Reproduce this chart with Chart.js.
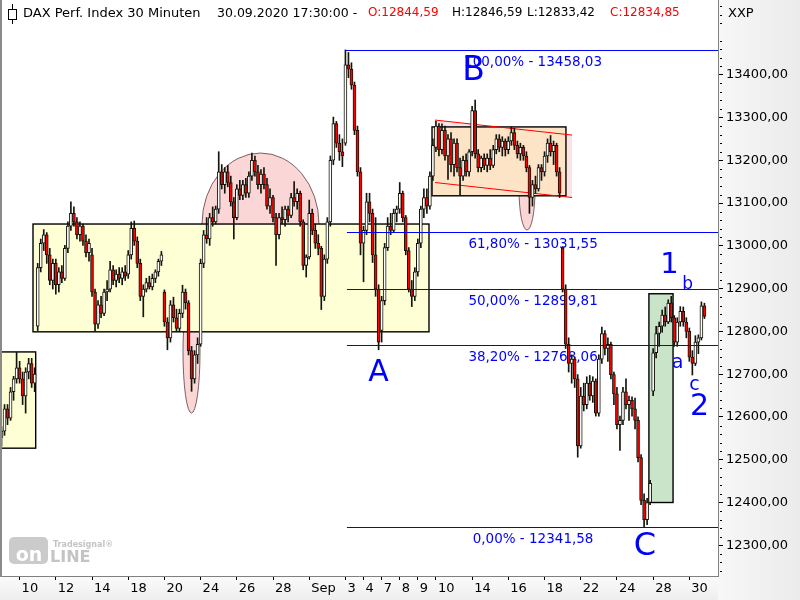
<!DOCTYPE html>
<html>
<head>
<meta charset="utf-8">
<title>DAX Perf. Index 30 Minuten</title>
<script src="https://cdn.jsdelivr.net/npm/chart.js@4.4.1/dist/chart.umd.min.js"></script>
<style>
  html, body { margin:0; padding:0; background:#fff; }
  #wrap { position:relative; width:800px; height:600px; overflow:hidden; }
  #chart { position:absolute; left:0; top:0; }
  .hd { position:absolute; top:4px; font-family:"DejaVu Sans", sans-serif; font-size:12px; line-height:17px; white-space:pre; color:#000; }
  .red { color:#ff0000; }
</style>
</head>
<body>
<div id="wrap">
  <canvas id="chart" width="800" height="600"></canvas>
  <div class="hd" style="left:23px;font-size:13px">DAX Perf. Index 30 Minuten</div>
  <div class="hd" style="left:217px;font-size:12.5px">30.09.2020 17:30:00 -</div>
  <div class="hd red" style="left:368px">O:12844,59</div>
  <div class="hd" style="left:452px">H:12846,59</div>
  <div class="hd" style="left:527px">L:12833,42</div>
  <div class="hd red" style="left:610px">C:12834,85</div>
  <div class="hd" style="left:728px;font-size:13px">XXP</div>
</div>
<script>
// ---------- data ----------
// trading days (Aug 7 .. Sep 30, 2020); '' = day without a printed tick label
const dayLabels = ['', '10', '', '12', '', '14', '', '18', '', '20', '', '24', '', '26', '', '28', '', 'Sep', '', '3', '4', '7', '8', '9', '10', '', '14', '', '16', '', '18', '', '22', '', '24', '', '28', '', '30'];
const barsPerDay = 6;
const emptySlots = 4;

// [open, high, low, close], one line per trading day
const ohlc = [
  [12552,12577,12532,12567],[12567,12629,12557,12619],[12619,12629,12582,12597],[12597,12669,12592,12659],[12659,12695,12639,12689],[12689,12751,12679,12715],
  [12715,12730,12679,12689],[12689,12705,12629,12649],[12649,12715,12609,12705],[12705,12737,12689,12725],[12725,12737,12669,12679],[12679,12715,12659,12700],
  [12812,12959,12802,12949],[12949,13016,12939,13006],[13006,13038,12989,13026],[13026,13031,12959,12979],[12979,12994,12909,12919],[12919,12969,12899,12959],
  [12959,12969,12887,12909],[12909,12949,12892,12939],[12939,12954,12914,12924],[12924,13001,12919,12994],[12994,13056,12984,13046],[13046,13103,13036,13076],
  [13076,13091,13046,13056],[13056,13066,13016,13026],[13026,13056,13011,13046],[13046,13051,13001,13011],[13011,13026,12974,12984],[12984,13016,12964,13006],
  [12979,12994,12882,12892],[12892,12899,12800,12817],[12817,12872,12807,12862],[12862,12882,12832,12842],[12842,12899,12837,12892],[12892,12919,12872,12899],
  [12899,12964,12892,12944],[12944,12954,12909,12919],[12919,12944,12904,12934],[12934,12949,12914,12924],[12924,12949,12909,12939],[12939,12954,12919,12929],
  [12934,12989,12924,12979],[12979,13056,12969,13041],[13041,13058,13001,13011],[13011,13021,12949,12959],[12959,12969,12872,12882],[12882,12909,12834,12899],
  [12899,12924,12892,12914],[12914,12929,12899,12904],[12904,12934,12897,12924],[12924,12944,12914,12939],[12939,12969,12929,12964],[12964,12987,12954,12979],
  [12892,12897,12812,12822],[12822,12832,12757,12785],[12785,12872,12775,12862],[12862,12880,12822,12832],[12832,12852,12800,12807],[12807,12852,12800,12842],
  [12842,12908,12832,12892],[12892,12899,12852,12867],[12867,12872,12745,12755],[12755,12765,12660,12689],[12689,12755,12679,12745],[12745,12785,12725,12770],
  [12770,12969,12765,12959],[12959,13036,12949,13026],[13026,13066,13006,13016],[13016,13076,13001,13066],[13066,13091,13046,13056],[13056,13093,13051,13086],
  [13086,13220,13076,13173],[13173,13190,13133,13143],[13143,13183,13123,13173],[13173,13188,13138,13148],[13148,13163,13093,13103],[13103,13113,13016,13066],
  [13066,13143,13061,13133],[13133,13153,13108,13118],[13118,13153,13108,13143],[13143,13158,13113,13123],[13123,13173,13113,13163],[13163,13217,13153,13200],
  [13200,13210,13163,13173],[13173,13188,13133,13143],[13143,13178,13123,13168],[13168,13183,13133,13143],[13143,13158,13086,13093],[13093,13133,13076,13113],
  [13113,13118,13056,13066],[13066,13076,12954,13026],[13026,13076,13016,13066],[13066,13091,13051,13061],[13061,13093,13046,13086],[13086,13093,13056,13071],
  [13071,13123,13066,13113],[13113,13150,13093,13103],[13103,13133,13086,13123],[13123,13128,13046,13056],[13056,13061,12944,12954],[12954,12979,12927,12974],
  [12974,13107,12969,13076],[13076,13086,13026,13036],[13036,13051,12994,13006],[13006,13026,12979,12994],[12994,12999,12851,12882],[12882,12979,12872,12969],
  [12969,13066,12959,13056],[13056,13210,13046,13200],[13200,13301,13190,13286],[13286,13291,13230,13240],[13240,13260,13200,13220],[13220,13250,13185,13210],
  [13240,13458,13235,13423],[13423,13452,13393,13413],[13413,13428,13366,13376],[13376,13383,13260,13270],[13270,13280,13163,13173],[13173,13183,12979,13006],
  [13006,13046,12916,13036],[13036,13123,13026,13103],[13103,13123,13056,13076],[13076,13086,12961,12979],[12979,13066,12882,12899],[12899,12909,12757,12775],
  [12802,12882,12775,12872],[12872,13006,12862,12996],[12996,13066,12989,13046],[13046,13076,13026,13036],[13036,13086,13031,13076],[13076,13093,13056,13086],
  [13086,13148,13076,13123],[13123,13128,13056,13066],[13066,13071,12979,12989],[12989,12996,12892,12899],[12899,12919,12858,12882],[12882,12949,12872,12939],
  [12939,13016,12929,13006],[13006,13093,12996,13086],[13086,13133,13066,13113],[13113,13133,13076,13093],[13093,13173,13086,13163],[13163,13250,13153,13235],
  [13230,13291,13220,13280],[13280,13286,13210,13225],[13225,13285,13215,13270],[13270,13280,13200,13210],[13210,13260,13155,13250],[13250,13265,13173,13190],
  [13190,13250,13163,13240],[13240,13250,13173,13183],[13183,13205,13119,13163],[13163,13210,13153,13200],[13200,13215,13163,13173],[13173,13225,13163,13220],
  [13220,13326,13210,13316],[13316,13341,13205,13215],[13215,13225,13173,13183],[13183,13210,13173,13205],[13205,13215,13178,13188],[13188,13215,13173,13205],
  [13205,13225,13178,13188],[13188,13235,13183,13225],[13225,13260,13215,13250],[13250,13260,13220,13230],[13230,13255,13210,13245],[13245,13250,13210,13225],
  [13225,13255,13215,13245],[13245,13278,13235,13265],[13265,13275,13225,13235],[13235,13245,13205,13215],[13215,13240,13200,13230],[13230,13235,13200,13210],
  [13210,13220,13173,13183],[13183,13188,13076,13113],[13113,13153,13093,13143],[13143,13163,13123,13133],[13133,13190,13128,13183],[13183,13190,13153,13173],
  [13173,13220,13163,13210],[13210,13250,13195,13240],[13240,13258,13210,13220],[13220,13245,13190,13235],[13235,13240,13163,13173],[13173,13183,13113,13123],
  [12995,12998,12892,12899],[12899,12909,12760,12770],[12770,12785,12705,12725],[12725,12745,12679,12735],[12735,12740,12669,12689],[12689,12699,12506,12532],
  [12532,12669,12527,12649],[12649,12679,12614,12629],[12629,12694,12619,12679],[12679,12697,12639,12649],[12649,12694,12634,12684],[12684,12689,12602,12609],
  [12609,12745,12602,12735],[12735,12810,12725,12795],[12795,12802,12745,12760],[12760,12785,12730,12770],[12770,12775,12689,12699],[12699,12705,12629,12654],
  [12654,12669,12572,12582],[12582,12602,12522,12592],[12592,12669,12582,12659],[12659,12689,12619,12629],[12629,12649,12592,12639],[12639,12647,12602,12619],
  [12619,12644,12572,12592],[12592,12600,12495,12505],[12505,12512,12395,12405],[12405,12420,12342,12360],[12360,12410,12348,12400],[12400,12452,12395,12445],
  [12660,12760,12650,12750],[12750,12812,12738,12795],[12795,12822,12765,12812],[12812,12850,12798,12838],[12838,12857,12812,12822],[12822,12874,12818,12866],
  [12866,12882,12822,12832],[12832,12837,12765,12775],[12775,12832,12765,12822],[12822,12858,12812,12847],[12847,12857,12812,12822],[12822,12832,12785,12800],
  [12800,12808,12730,12740],[12740,12755,12698,12725],[12725,12790,12720,12775],[12775,12792,12748,12785],[12785,12869,12780,12860],[12860,12866,12830,12835]
];

const yTickValues = [12300, 12400, 12500, 12600, 12700, 12800, 12900, 13000, 13100, 13200, 13300, 13400];
const yRange = [12228.2, 13574.7];

// Fibonacci retracement levels (C low .. B high)
const fibLevels = [13458.03, 13031.55, 12899.81, 12768.06, 12341.58];
const fibNames  = ['100,00%', '61,80%', '50,00%', '38,20%', '0,00%'];

// ---------- drawing layout (data coordinates: slot index, price) ----------
const layoutCfg = {
  leftBox:  { x0: -0.5,  x1: 11.33, p0: 12527, p1: 12752 },
  bigBox:   { x0: 10.44, x1: 141.7, p0: 12799, p1: 13051 },
  dome:     { cx: 85.85, cp: 13051, rx: 19.39, rp: 166 },
  dip1:     { cx: 62.98, cp: 12752, rx: 2.82,  rp: 143 },
  peachBox: { x0: 142.7, x1: 187.1, p0: 13117, p1: 13278 },
  chanTop:  [[143.7, 13294], [189.1, 13259]],
  chanBot:  [[143.7, 13148], [189.1, 13113]],
  dip2:     { cx: 174.2, cp: 13131, rx: 2.65,  rp: 94 },
  greenBox: { x0: 214.6, x1: 222.6, p0: 12400, p1: 12888 },
  fibStart: [113.9, 114.5, 114.5, 114.5, 114.5],
  fibTextX: 176.2,
  waves: [
    { t: 'B', x: 156.5, p: 13388, size: 33 },
    { t: 'A', x: 125.0, p: 12684, size: 30 },
    { t: 'C', x: 213.3, p: 12277, size: 32 },
    { t: '1', x: 221.4, p: 12936, size: 29 },
    { t: 'b', x: 227.4, p: 12899, size: 17 },
    { t: 'a', x: 224.1, p: 12714, size: 19 },
    { t: 'c', x: 229.7, p: 12663, size: 19 },
    { t: '2', x: 231.4, p: 12605, size: 30 }
  ]
};

// ---------- build chart data ----------
const labels = [];
dayLabels.forEach(d => { for (let j = 0; j < barsPerDay; j++) labels.push(j === 0 ? d : ''); });
for (let k = 0; k < emptySlots; k++) labels.push('');

const wickData = ohlc.map(b => [b[2], b[1]]);
const bodyData = ohlc.map(b => [b[0], b[3]]);
const bodyColors = ohlc.map(b => (b[3] >= b[0] ? '#ffffff' : '#ff0000'));

const FONT = '"DejaVu Sans", sans-serif';
const fmt = v => v.toFixed(2).replace('.', ',');

const panelsPlugin = {
  id: 'panels',
  beforeDraw(chart) {
    const { ctx, chartArea: a, width, height } = chart;
    ctx.save();
    ctx.fillStyle = '#ffffff';
    ctx.fillRect(0, 0, width, height);
    let g = ctx.createLinearGradient(a.right, 0, width, 0);
    g.addColorStop(0, '#f7f7f7'); g.addColorStop(1, '#ebebeb');
    ctx.fillStyle = g;
    ctx.fillRect(a.right, 0, width - a.right, height);
    g = ctx.createLinearGradient(0, a.bottom, 0, height);
    g.addColorStop(0, '#fbfbfb'); g.addColorStop(1, '#eeeeee');
    ctx.fillStyle = g;
    ctx.fillRect(0, a.bottom, a.right, height - a.bottom);
    ctx.restore();
  }
};

const shapesPlugin = {
  id: 'shapes',
  beforeDatasetsDraw(chart) {
    const { ctx, chartArea: a, scales: { x, y } } = chart;
    const X = v => x.getPixelForValue(v), Y = p => y.getPixelForValue(p);
    const L = layoutCfg;
    ctx.save();
    ctx.beginPath(); ctx.rect(a.left, a.top, a.width, a.height); ctx.clip();

    const box = (b, fill) => {
      const x0 = X(b.x0), x1 = X(b.x1), y0 = Y(b.p1), y1 = Y(b.p0);
      ctx.fillStyle = fill;
      ctx.fillRect(x0, y0, x1 - x0, y1 - y0);
      ctx.strokeStyle = '#000'; ctx.lineWidth = 1.4;
      ctx.strokeRect(x0, y0, x1 - x0, y1 - y0);
    };
    const ell = (e, fill) => {
      const cx = X(e.cx), cy = Y(e.cp);
      const rx = Math.abs(X(e.cx + e.rx) - cx), ry = Math.abs(Y(e.cp - e.rp) - cy);
      ctx.beginPath(); ctx.ellipse(cx, cy, rx, ry, 0, 0, Math.PI * 2);
      ctx.fillStyle = fill; ctx.fill();
      ctx.strokeStyle = '#5a4040'; ctx.lineWidth = 0.8; ctx.stroke();
    };

    box(L.leftBox, '#ffffd6');
    ell(L.dome, '#fad6d6');
    ell(L.dip1, '#fad6d6');
    box(L.bigBox, '#ffffd6');

    // channel
    ctx.beginPath();
    ctx.moveTo(X(L.chanTop[0][0]), Y(L.chanTop[0][1]));
    ctx.lineTo(X(L.chanTop[1][0]), Y(L.chanTop[1][1]));
    ctx.lineTo(X(L.chanBot[1][0]), Y(L.chanBot[1][1]));
    ctx.lineTo(X(L.chanBot[0][0]), Y(L.chanBot[0][1]));
    ctx.closePath();
    ctx.fillStyle = '#fbe3e3'; ctx.fill();

    ell(L.dip2, '#fad6d6');
    box(L.peachBox, '#fde4c6');

    ctx.strokeStyle = '#ff0000'; ctx.lineWidth = 1;
    [L.chanTop, L.chanBot].forEach(ln => {
      ctx.beginPath();
      ctx.moveTo(X(ln[0][0]), Y(ln[0][1]));
      ctx.lineTo(X(ln[1][0]), Y(ln[1][1]));
      ctx.stroke();
    });

    box(L.greenBox, '#c9e4c9');

    // Fibonacci labels sit underneath the candles
    ctx.fillStyle = '#0000ff';
    ctx.font = '13.5px ' + FONT;
    ctx.textAlign = 'center'; ctx.textBaseline = 'middle';
    fibLevels.forEach((lv, i) => {
      const py = Math.round(Y(lv)) + 0.5;
      ctx.fillText(fibNames[i] + ' - ' + fmt(lv), X(L.fibTextX), py + 12);
    });
    ctx.restore();
  },
  afterDatasetsDraw(chart) {
    const { ctx, chartArea: a, scales: { x, y } } = chart;
    const X = v => x.getPixelForValue(v), Y = p => y.getPixelForValue(p);
    const L = layoutCfg;
    ctx.save();
    // Fibonacci lines
    ctx.strokeStyle = '#0000ff'; ctx.lineWidth = 1;
    fibLevels.forEach((lv, i) => {
      const py = Math.round(Y(lv)) + 0.5;
      ctx.beginPath(); ctx.moveTo(X(L.fibStart[i]), py); ctx.lineTo(a.right, py); ctx.stroke();
    });
    // wave letters
    ctx.fillStyle = '#0000ff';
    ctx.textAlign = 'center';
    ctx.textBaseline = 'alphabetic';
    L.waves.forEach(w => {
      ctx.font = w.size + 'px ' + FONT;
      ctx.fillText(w.t, X(w.x), Y(w.p));
    });
    ctx.restore();
  },
  afterDraw(chart) {
    const { ctx, chartArea: a, scales: { y } } = chart;
    ctx.save();
    // frame (left side)
    ctx.fillStyle = '#8a8a8a';
    ctx.fillRect(0, 0, 2, a.bottom + 1);
    // minor y ticks
    ctx.strokeStyle = '#000'; ctx.lineWidth = 1;
    for (let p = 12240; p <= 13560; p += 20) {
      if (p % 100 === 0) continue;
      const py = Math.round(y.getPixelForValue(p)) + 0.5;
      ctx.beginPath(); ctx.moveTo(a.right + 2, py); ctx.lineTo(a.right + 4, py); ctx.stroke();
    }
    // candle icon in header
    ctx.strokeStyle = '#000';
    ctx.beginPath(); ctx.moveTo(12.5, 4); ctx.lineTo(12.5, 24); ctx.stroke();
    ctx.fillStyle = '#fff';
    ctx.fillRect(8.5, 9.5, 8, 10);
    ctx.strokeRect(8.5, 9.5, 8, 10);
    // watermark
    ctx.fillStyle = '#cbcbcb';
    ctx.beginPath();
    if (ctx.roundRect) ctx.roundRect(9, 537, 39, 27, 5); else ctx.rect(9, 537, 39, 27);
    ctx.fill();
    ctx.fillStyle = '#ffffff';
    ctx.font = 'bold 19px ' + FONT;
    ctx.textAlign = 'center'; ctx.textBaseline = 'alphabetic';
    ctx.fillText('on', 29, 561);
    ctx.fillStyle = '#c4c4c4';
    ctx.textAlign = 'left';
    ctx.font = 'bold 16px ' + FONT;
    ctx.fillText('LINE', 50, 562);
    ctx.font = 'bold 8px ' + FONT;
    ctx.fillText('Tradesignal\u00ae', 53, 547);
    ctx.restore();
  }
};

new Chart(document.getElementById('chart'), {
  type: 'bar',
  data: {
    labels: labels,
    datasets: [
      {
        label: 'wick',
        data: wickData,
        backgroundColor: '#14140a',
        borderWidth: 0,
        barThickness: 1,
        grouped: false,
        order: 2
      },
      {
        label: 'body',
        data: bodyData,
        backgroundColor: bodyColors,
        borderColor: '#14140a',
        borderWidth: 1,
        borderSkipped: false,
        barThickness: 3,
        minBarLength: 1,
        grouped: false,
        order: 1
      }
    ]
  },
  options: {
    responsive: false,
    animation: false,
    devicePixelRatio: 1,
    layout: { padding: 0 },
    plugins: { legend: { display: false }, tooltip: { enabled: false }, title: { display: false } },
    scales: {
      x: {
        type: 'category',
        offset: true,
        grid: { display: true, drawOnChartArea: false, drawTicks: true, tickLength: 4, offset: false, color: '#000' },
        border: { display: true, color: '#808080', width: 1 },
        ticks: {
          autoSkip: false, maxRotation: 0, minRotation: 0, align: 'start', labelOffset: 2, padding: 1,
          color: '#000', font: { family: FONT, size: 13 }
        },
        afterBuildTicks: scale => { scale.ticks = scale.ticks.filter(t => labels[t.value] !== ''); },
        afterFit: scale => { scale.height = 24; scale.paddingLeft = 0; scale.paddingRight = 0; }
      },
      y: {
        type: 'linear',
        position: 'right',
        min: yRange[0],
        max: yRange[1],
        beginAtZero: false,
        grid: { display: true, drawOnChartArea: false, drawTicks: true, tickLength: 5, color: '#000' },
        border: { display: true, color: '#808080', width: 1 },
        ticks: { color: '#000', padding: 3, font: { family: FONT, size: 13 }, callback: v => fmt(v) },
        afterBuildTicks: scale => { scale.ticks = yTickValues.map(v => ({ value: v })); },
        afterFit: scale => { scale.width = 82; scale.paddingTop = 0; scale.paddingBottom = 0; }
      }
    }
  },
  plugins: [panelsPlugin, shapesPlugin]
});
</script>
</body>
</html>
